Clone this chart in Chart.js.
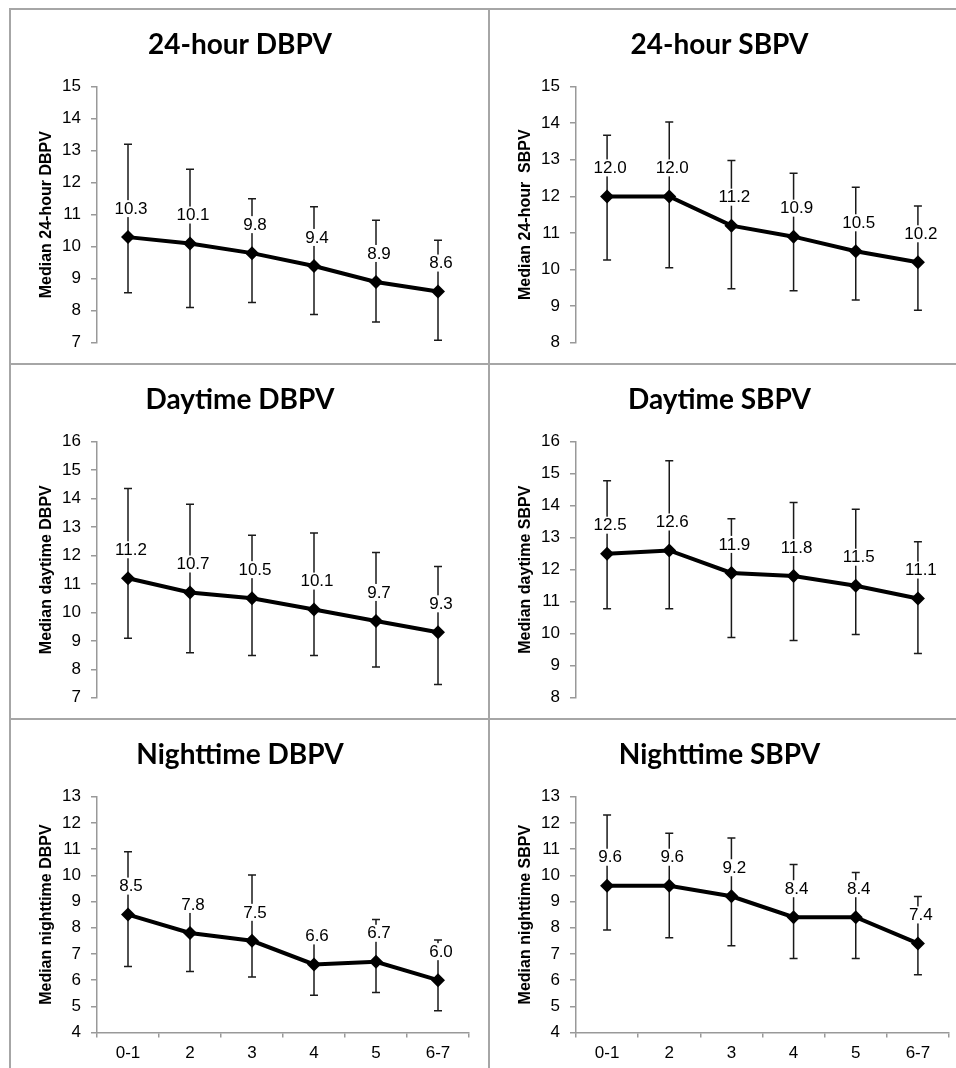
<!DOCTYPE html>
<html lang="en">
<head>
    <meta charset="UTF-8">
    <title>Median BPV by category</title>
    <script src="https://cdn.jsdelivr.net/npm/chart.js"></script>
    <style>
        body { margin: 0; background: #fff; }
        #page { position: relative; width: 956px; height: 1068px; overflow: hidden; }
        .rule { position: absolute; background: #a6a6a6; }
        canvas { position: absolute; }
    </style>
</head>
<body>
<div id="page">
    <div class="rule" style="left:9px; top:8px; width:947px; height:2px;"></div>
    <div class="rule" style="left:9px; top:8px; width:2px; height:1060px;"></div>
    <div class="rule" style="left:488px; top:8px; width:2px; height:1060px;"></div>
    <div class="rule" style="left:9px; top:363px; width:947px; height:2px;"></div>
    <div class="rule" style="left:9px; top:718px; width:947px; height:2px;"></div>

    <canvas id="c1" width="477" height="353" style="left:11px; top:10px;"></canvas>
    <canvas id="c2" width="466" height="353" style="left:490px; top:10px;"></canvas>
    <canvas id="c3" width="477" height="353" style="left:11px; top:365px;"></canvas>
    <canvas id="c4" width="466" height="353" style="left:490px; top:365px;"></canvas>
    <canvas id="c5" width="477" height="348" style="left:11px; top:720px;"></canvas>
    <canvas id="c6" width="466" height="348" style="left:490px; top:720px;"></canvas>
</div>

<script>
    // Categories on the x axis
    const categories = ['0-1', '2', '3', '4', '5', '6-7'];

    // 24-hour DBPV: median, upper and lower error bar ends
    const dbpv24 = [10.3, 10.1, 9.8, 9.4, 8.9, 8.6];
    const dbpv24Hi = [13.2, 12.42, 11.5, 11.25, 10.83, 10.2];
    const dbpv24Lo = [8.56, 8.1, 8.26, 7.88, 7.65, 7.08];

    // 24-hour SBPV
    const sbpv24 = [12.0, 12.0, 11.2, 10.9, 10.5, 10.2];
    const sbpv24Hi = [13.67, 14.03, 12.98, 12.63, 12.25, 11.74];
    const sbpv24Lo = [10.26, 10.05, 9.48, 9.42, 9.17, 8.89];

    // Daytime DBPV
    const dbpvDay = [11.2, 10.7, 10.5, 10.1, 9.7, 9.3];
    const dbpvDayHi = [14.35, 13.8, 12.71, 12.79, 12.1, 11.61];
    const dbpvDayLo = [9.09, 8.58, 8.49, 8.49, 8.08, 7.47];

    // Daytime SBPV
    const sbpvDay = [12.5, 12.6, 11.9, 11.8, 11.5, 11.1];
    const sbpvDayHi = [14.78, 15.4, 13.59, 14.1, 13.89, 12.87];
    const sbpvDayLo = [10.78, 10.78, 9.88, 9.79, 9.98, 9.38];

    // Nighttime DBPV
    const dbpvNight = [8.5, 7.8, 7.5, 6.6, 6.7, 6.0];
    const dbpvNightHi = [10.9, 9.01, 10.01, 7.62, 8.31, 7.53];
    const dbpvNightLo = [6.52, 6.33, 6.12, 5.42, 5.53, 4.83];

    // Nighttime SBPV
    const sbpvNight = [9.6, 9.6, 9.2, 8.4, 8.4, 7.4];
    const sbpvNightHi = [12.3, 11.6, 11.42, 10.41, 10.11, 9.19];
    const sbpvNightLo = [7.91, 7.62, 7.31, 6.83, 6.83, 6.21];

    const axisGray = '#999999';
    const sans = "'Liberation Sans', Arial, sans-serif";

    // Error bars drawn under the line
    const errorBars = {
        id: 'errorBars',
        beforeDatasetsDraw(chart) {
            const { ctx, scales: { x, y } } = chart;
            const ds = chart.data.datasets[0];
            ctx.save();
            ctx.strokeStyle = '#1a1a1a';
            ctx.lineWidth = 1.5;
            ds.data.forEach((v, i) => {
                const px = x.getPixelForValue(i);
                const top = y.getPixelForValue(ds.hi[i]);
                const bot = y.getPixelForValue(ds.lo[i]);
                ctx.beginPath();
                ctx.moveTo(px, top); ctx.lineTo(px, bot);
                ctx.moveTo(px - 4, top); ctx.lineTo(px + 4, top);
                ctx.moveTo(px - 4, bot); ctx.lineTo(px + 4, bot);
                ctx.stroke();
            });
            ctx.restore();
        }
    };

    // Value labels above each point, on a white box
    const valueLabels = {
        id: 'valueLabels',
        afterDatasetsDraw(chart) {
            const { ctx, scales: { x, y } } = chart;
            const ds = chart.data.datasets[0];
            ctx.save();
            ctx.font = '17px ' + sans;
            ctx.textAlign = 'center';
            ctx.textBaseline = 'middle';
            ds.data.forEach((v, i) => {
                const txt = v.toFixed(1);
                const px = x.getPixelForValue(i) + 3;
                const py = y.getPixelForValue(v) - 29;
                const w = ctx.measureText(txt).width + 4;
                ctx.fillStyle = '#fff';
                ctx.fillRect(px - w / 2, py - 8, w, 17);
                ctx.fillStyle = '#000';
                ctx.fillText(txt, px, py + 1);
            });
            ctx.restore();
        }
    };

    function makePanel(id, title, yTitle, min, max, values, hi, lo, showX, padRight) {
        return new Chart(document.getElementById(id), {
            type: 'line',
            data: {
                labels: categories,
                datasets: [{
                    data: values,
                    hi: hi,
                    lo: lo,
                    borderColor: '#000',
                    borderWidth: 4,
                    pointStyle: 'rectRot',
                    pointRadius: 7,
                    pointBackgroundColor: '#000',
                    pointBorderColor: '#000',
                    pointBorderWidth: 0,
                    tension: 0
                }]
            },
            options: {
                responsive: false,
                animation: false,
                devicePixelRatio: 1,
                layout: { padding: { left: 0, right: padRight, top: 0, bottom: showX ? -2 : 20 } },
                plugins: {
                    legend: { display: false },
                    tooltip: { enabled: false },
                    title: {
                        display: true,
                        text: title,
                        color: '#000',
                        font: { family: "Lato, 'Open Sans', sans-serif", size: 28, weight: 'bold', lineHeight: 1.2 },
                        padding: { top: 18, bottom: 25 }
                    }
                },
                scales: {
                    x: {
                        display: showX,
                        offset: true,
                        border: { color: axisGray, width: 1.5 },
                        grid: { offset: true, drawOnChartArea: false, drawTicks: true, tickLength: 5, color: axisGray, lineWidth: 1.5 },
                        ticks: { color: '#000', padding: 6, font: { family: sans, size: 17 } }
                    },
                    y: {
                        min: min,
                        max: max,
                        afterFit(scale) { scale.width = 86; },
                        border: { color: axisGray, width: 1.5 },
                        grid: { drawOnChartArea: false, drawTicks: true, tickLength: 6, color: axisGray, lineWidth: 1.5 },
                        ticks: { stepSize: 1, color: '#000', padding: 10, font: { family: sans, size: 17 } },
                        title: {
                            display: true,
                            text: yTitle,
                            color: '#000',
                            font: { family: sans, size: 16, weight: 'bold' },
                            padding: { top: 26, bottom: 0 }
                        }
                    }
                }
            },
            plugins: [errorBars, valueLabels]
        });
    }

    makePanel('c1', '24-hour DBPV', 'Median 24-hour DBPV', 7, 15, dbpv24, dbpv24Hi, dbpv24Lo, false, 19);
    makePanel('c2', '24-hour SBPV', 'Median 24-hour  SBPV', 8, 15, sbpv24, sbpv24Hi, sbpv24Lo, false, 7);
    makePanel('c3', 'Daytime DBPV', 'Median daytime DBPV', 7, 16, dbpvDay, dbpvDayHi, dbpvDayLo, false, 19);
    makePanel('c4', 'Daytime SBPV', 'Median daytime SBPV', 8, 16, sbpvDay, sbpvDayHi, sbpvDayLo, false, 7);
    makePanel('c5', 'Nighttime DBPV', 'Median nighttime DBPV', 4, 13, dbpvNight, dbpvNightHi, dbpvNightLo, true, 19);
    makePanel('c6', 'Nighttime SBPV', 'Median nighttime SBPV', 4, 13, sbpvNight, sbpvNightHi, sbpvNightLo, true, 7);
</script>
</body>
</html>
